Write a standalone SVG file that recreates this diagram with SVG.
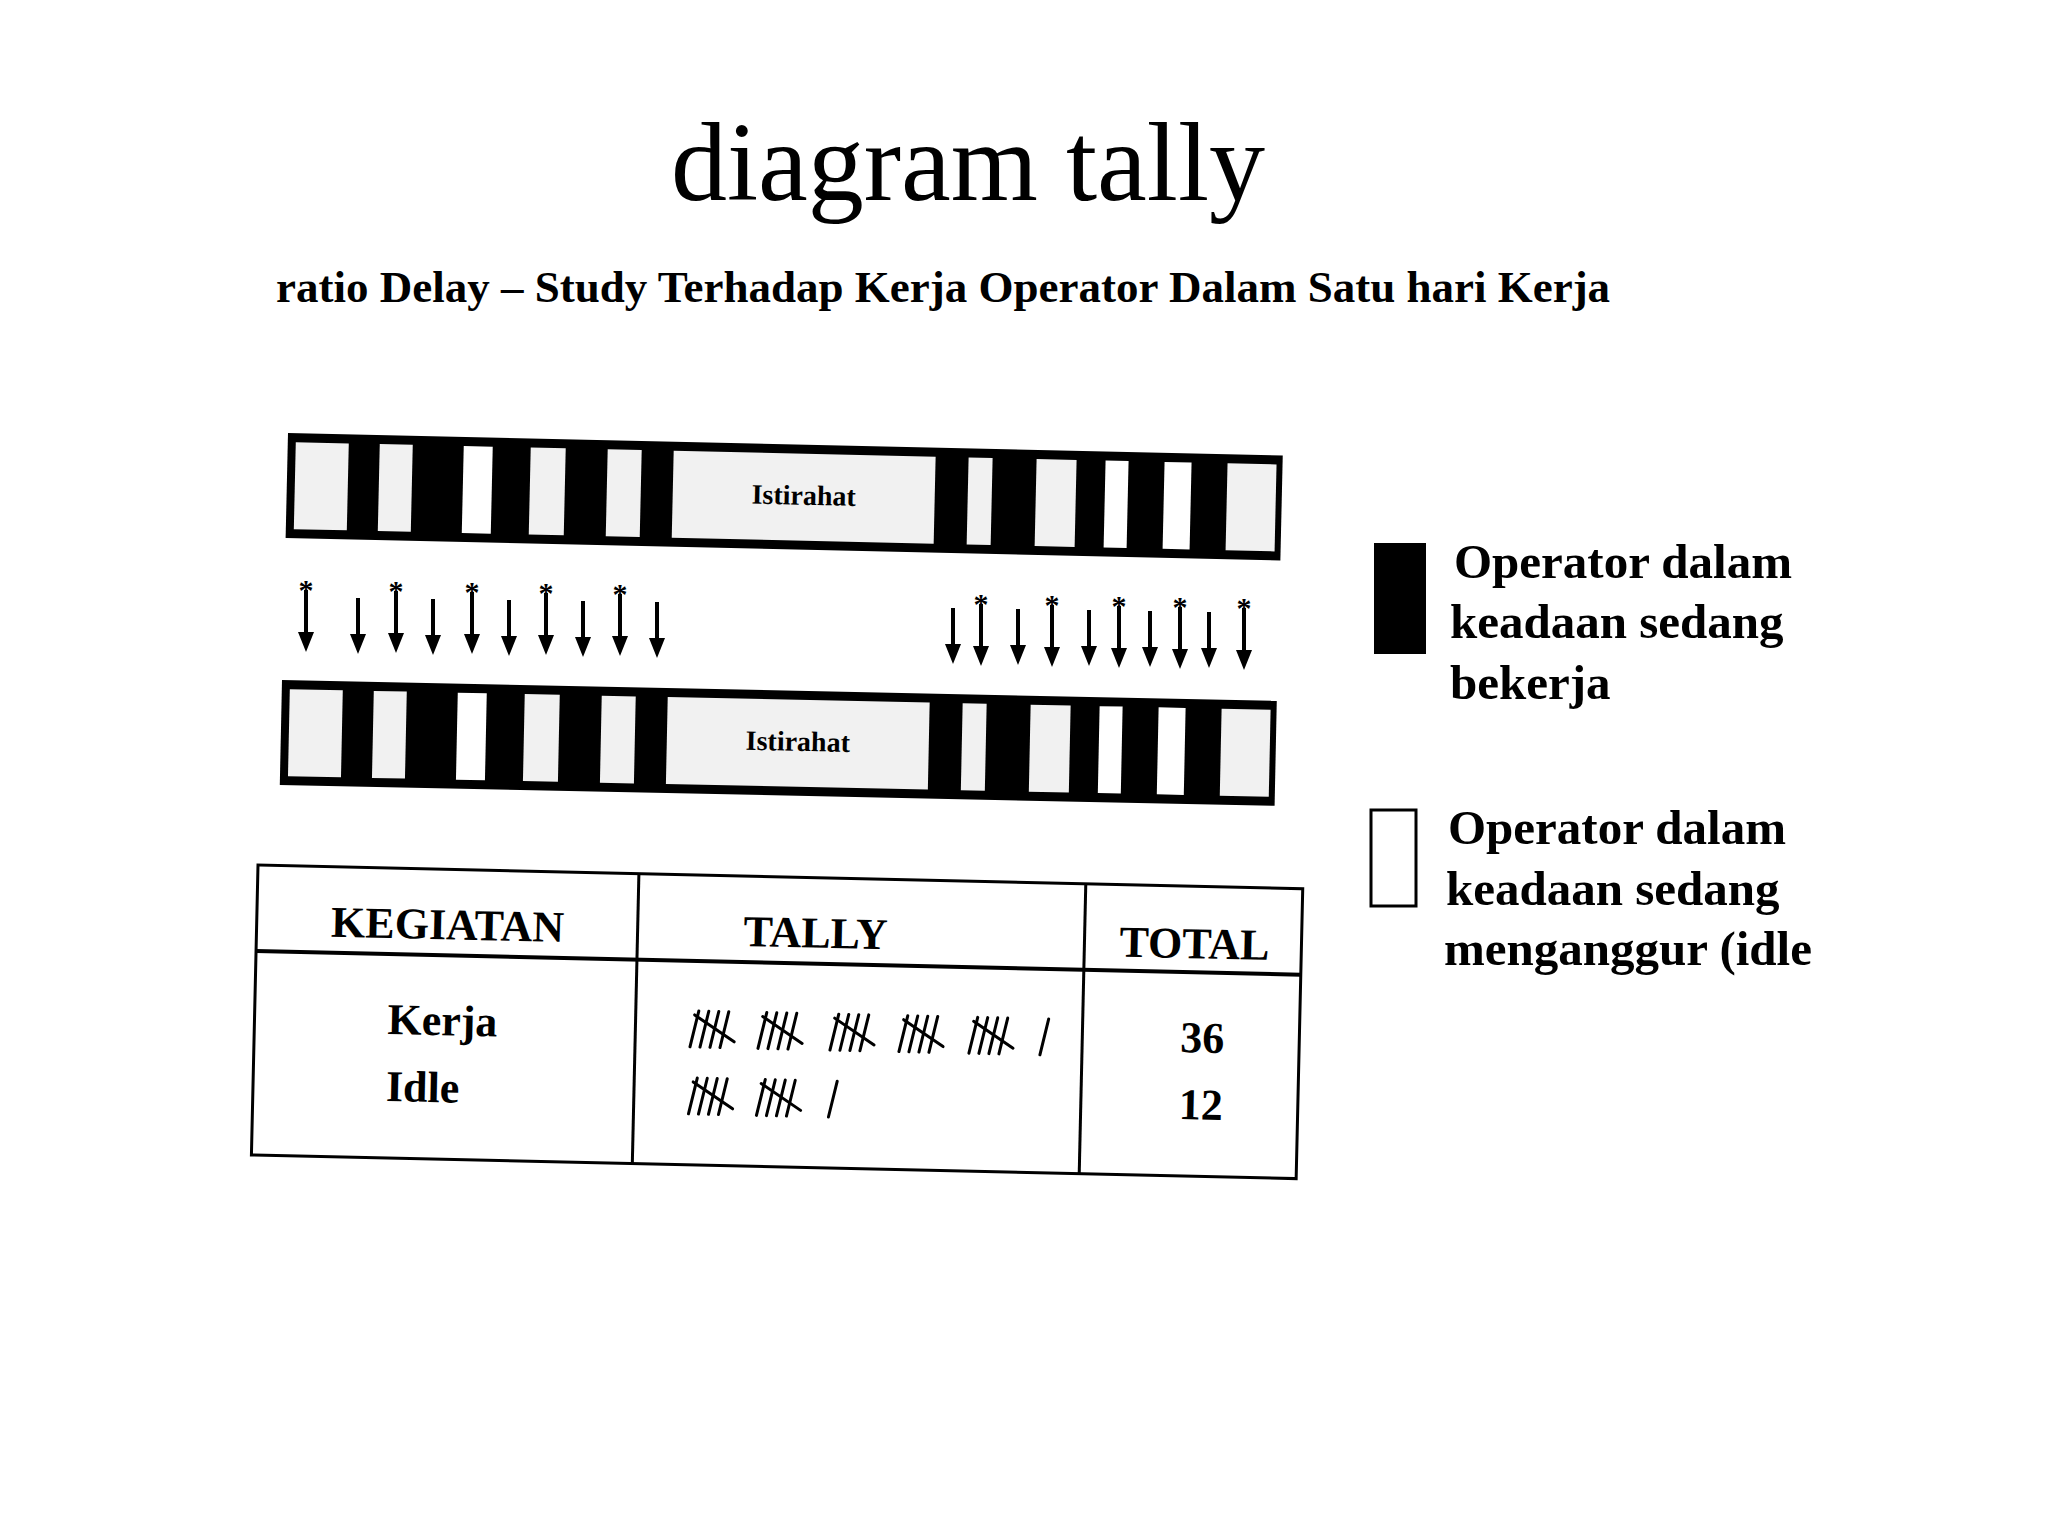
<svg xmlns="http://www.w3.org/2000/svg" xmlns:xlink="http://www.w3.org/1999/xlink" width="2048" height="1536" viewBox="0 0 2048 1536">
<style>
.serif{font-family:"Liberation Serif","DejaVu Serif",serif;fill:#000}
.b{font-weight:bold}
.cellw{fill:#fff}
.cellg{fill:#f1f1f1}
.tl{stroke:#000;stroke-width:3;fill:none;stroke-linecap:round}
.arr{stroke:#000;stroke-width:4;fill:none}
.frame{fill:none;stroke:#000;stroke-width:3}
</style>
<defs>
<g id="bar">
<rect x="0" y="0" width="995" height="105" fill="#000"/>
<rect class="cellg" x="8" y="9" width="53" height="87"/>
<rect class="cellg" x="92" y="9" width="33" height="87"/>
<rect class="cellw" x="176" y="9" width="29" height="87"/>
<rect class="cellg" x="243" y="9" width="35" height="87"/>
<rect class="cellg" x="320" y="9" width="34" height="87"/>
<rect class="cellg" x="386" y="9" width="262" height="87"/>
<rect class="cellg" x="681" y="9" width="24" height="87"/>
<rect class="cellg" x="749" y="9" width="40" height="87"/>
<rect class="cellw" x="818" y="9" width="23" height="87"/>
<rect class="cellw" x="877" y="9" width="27" height="87"/>
<rect class="cellg" x="940" y="9" width="49" height="87"/>
<text class="serif b" x="517" y="60" font-size="28" text-anchor="middle">Istirahat</text>
</g>
<g id="tally">
<line class="tl" x1="8" y1="0" x2="0" y2="36"/>
<line class="tl" x1="18" y1="0" x2="10" y2="36"/>
<line class="tl" x1="28" y1="0" x2="20" y2="36"/>
<line class="tl" x1="38" y1="0" x2="30" y2="36"/>
<line class="tl" x1="4" y1="4" x2="44" y2="30"/>
</g>
<g id="one"><line class="tl" x1="8" y1="0" x2="0" y2="36"/></g>
<g id="sarrow">
<text class="serif b" x="0" y="22" font-size="30" text-anchor="middle">*</text>
<line class="arr" x1="0" y1="12" x2="0" y2="60"/>
<polygon points="-8,54 8,54 0,74" fill="#000"/>
</g>
<g id="parrow">
<line class="arr" x1="0" y1="0" x2="0" y2="42"/>
<polygon points="-8,36 8,36 0,56" fill="#000"/>
</g>
</defs>

<g id="title">
<text class="serif" x="968" y="200" font-size="112" text-anchor="middle">diagram tally</text>
<text class="serif b" x="276" y="302" font-size="45">ratio Delay – Study Terhadap Kerja Operator Dalam Satu hari Kerja</text>
</g>

<g id="bar-top" transform="rotate(1.3 288 433)">
<use xlink:href="#bar" x="288" y="433"/>
</g>
<g id="bar-bottom" transform="rotate(1.2 282 680)">
<use xlink:href="#bar" x="282" y="680"/>
</g>

<g id="connectors">
<use xlink:href="#sarrow" x="306" y="578"/>
<use xlink:href="#parrow" x="358" y="598"/>
<use xlink:href="#sarrow" x="396" y="579"/>
<use xlink:href="#parrow" x="433" y="599"/>
<use xlink:href="#sarrow" x="472" y="580"/>
<use xlink:href="#parrow" x="509" y="600"/>
<use xlink:href="#sarrow" x="546" y="581"/>
<use xlink:href="#parrow" x="583" y="601"/>
<use xlink:href="#sarrow" x="620" y="582"/>
<use xlink:href="#parrow" x="657" y="602"/>
<use xlink:href="#parrow" x="953" y="608"/>
<use xlink:href="#sarrow" x="981" y="592"/>
<use xlink:href="#parrow" x="1018" y="609"/>
<use xlink:href="#sarrow" x="1052" y="593"/>
<use xlink:href="#parrow" x="1089" y="610"/>
<use xlink:href="#sarrow" x="1119" y="594"/>
<use xlink:href="#parrow" x="1150" y="611"/>
<use xlink:href="#sarrow" x="1180" y="595"/>
<use xlink:href="#parrow" x="1209" y="612"/>
<use xlink:href="#sarrow" x="1244" y="596"/>
</g>

<g id="table" transform="rotate(1.3 258 865)">
<rect class="frame" x="258" y="865" width="1045" height="290"/>
<line class="frame" x1="639" y1="865" x2="639" y2="1155"/>
<line class="frame" x1="1086" y1="865" x2="1086" y2="1155"/>
<line x1="258" y1="951" x2="1303" y2="951" stroke="#000" stroke-width="4"/>
<text class="serif b" x="449" y="935" font-size="44" text-anchor="middle">KEGIATAN</text>
<text class="serif b" x="817" y="935" font-size="44" text-anchor="middle">TALLY</text>
<text class="serif b" x="1196" y="937" font-size="44" text-anchor="middle">TOTAL</text>
<text class="serif b" x="391" y="1031" font-size="44">Kerja</text>
<text class="serif b" x="391" y="1098" font-size="44">Idle</text>
<text class="serif b" x="1206" y="1031" font-size="44" text-anchor="middle">36</text>
<text class="serif b" x="1206" y="1098" font-size="44" text-anchor="middle">12</text>
<use xlink:href="#tally" x="694" y="1001"/>
<use xlink:href="#tally" x="762" y="1001"/>
<use xlink:href="#tally" x="834" y="1001"/>
<use xlink:href="#tally" x="903" y="1001"/>
<use xlink:href="#tally" x="973" y="1001"/>
<use xlink:href="#one" x="1044" y="1001"/>
<use xlink:href="#tally" x="694" y="1068"/>
<use xlink:href="#tally" x="762" y="1068"/>
<use xlink:href="#one" x="834" y="1068"/>
</g>

<g id="legend-work">
<rect x="1374" y="543" width="52" height="111" fill="#000"/>
<text class="serif b" x="1454" y="578" font-size="49">Operator dalam</text>
<text class="serif b" x="1450" y="638" font-size="49">keadaan sedang</text>
<text class="serif b" x="1450" y="699" font-size="49">bekerja</text>
</g>
<g id="legend-idle">
<rect x="1371" y="810" width="45" height="96" fill="#fff" stroke="#000" stroke-width="3"/>
<text class="serif b" x="1448" y="844" font-size="49">Operator dalam</text>
<text class="serif b" x="1446" y="905" font-size="49">keadaan sedang</text>
<text class="serif b" x="1444" y="965" font-size="49">menganggur (idle</text>
</g>
</svg>
